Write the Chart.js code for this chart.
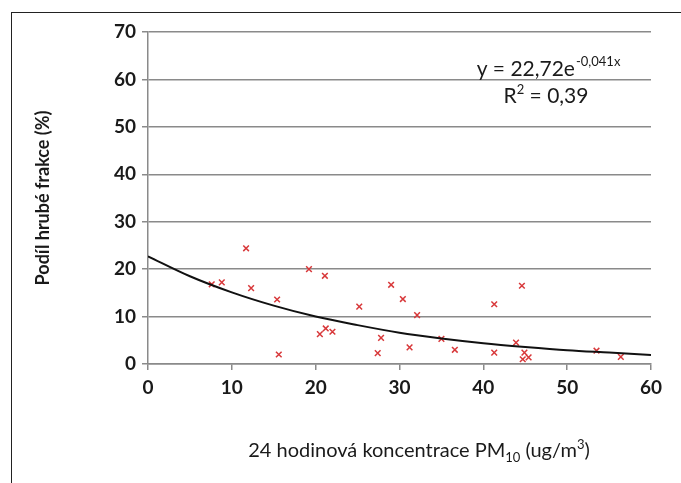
<!DOCTYPE html>
<html>
<head>
<meta charset="utf-8">
<script src="https://cdn.jsdelivr.net/npm/chart.js@4.4.1/dist/chart.umd.min.js"></script>
<style>
  html, body { margin: 0; padding: 0; background: #fff; }
  #wrap { position: relative; width: 681px; height: 483px; }
  #frame { position: absolute; left: 11px; top: 12px; right: 0; bottom: 0;
           border-left: 1px solid #222; border-top: 1px solid #222; }
  canvas { position: absolute; left: 0; top: 0; }
</style>
</head>
<body>
<div id="wrap">
  <div id="frame"></div>
  <canvas id="chart" width="681" height="483"></canvas>
</div>
<script>
// measured points (PM10 concentration vs coarse fraction share)
const pmX = [11.7, 7.6, 8.8, 12.3, 15.4, 15.6, 19.2, 21.1, 20.5, 21.2, 22.0, 25.2, 27.8, 27.4, 29.0,
             30.4, 32.1, 31.2, 35.0, 36.6, 41.3, 44.6, 41.3, 43.9, 44.9, 44.7, 45.4, 53.5, 56.4];
const shareY = [24.4, 16.8, 17.2, 16.0, 13.6, 2.0, 20.0, 18.6, 6.3, 7.5, 6.8, 12.1, 5.5, 2.3, 16.7,
                13.7, 10.3, 3.5, 5.3, 3.0, 12.6, 16.5, 2.4, 4.5, 2.4, 1.0, 1.4, 2.8, 1.5];

// exponential trend line
const trendX = [0, 5, 10, 15, 20, 25, 30, 35, 40, 45, 50, 55, 60];
const trendY = [22.7, 18.5, 15.1, 12.3, 10.0, 8.2, 6.6, 5.4, 4.4, 3.6, 2.9, 2.4, 1.9];

const xTicks = [0, 10, 20, 30, 40, 50, 60];
const yTicks = [0, 10, 20, 30, 40, 50, 60, 70];

const FONT = 'Lato, "Open Sans", sans-serif';

// text overlays: equation box and x axis title with sub/superscripts
const textPlugin = {
  id: 'texts',
  afterDraw(chart) {
    const c = chart.ctx;
    c.save();
    c.fillStyle = '#1a1a1a';
    c.textBaseline = 'alphabetic';
    c.textAlign = 'left';

    // equation
    const big = '21px ' + FONT, small = '13px ' + FONT;
    c.font = big;
    const p1 = 'y = 22,72e';
    const w1 = c.measureText(p1).width;
    c.font = small;
    const s1 = '-0,041x';
    const ws1 = c.measureText(s1).width;
    let x0 = 548 - (w1 + ws1) / 2;
    c.font = big;
    c.fillText(p1, x0, 76);
    c.font = small;
    c.fillText(s1, x0 + w1 + 1, 66);

    c.font = big;
    const a = 'R', b = ' = 0,39';
    const wa = c.measureText(a).width, wb = c.measureText(b).width;
    c.font = small;
    const w2 = c.measureText('2').width;
    x0 = 546 - (wa + w2 + wb) / 2;
    c.font = big;
    c.fillText(a, x0, 103);
    c.font = small;
    c.fillText('2', x0 + wa, 94);
    c.font = big;
    c.fillText(b, x0 + wa + w2, 103);

    // x axis title
    const f = '20px ' + FONT, fs = '13px ' + FONT;
    const parts = [['24 hodinová koncentrace PM', f, 0], ['10', fs, 5], [' (ug/m', f, 0], ['3', fs, -8], [')', f, 0]];
    let total = 0;
    parts.forEach(p => { c.font = p[1]; total += c.measureText(p[0]).width; });
    let x = 419 - total / 2;
    parts.forEach(p => {
      c.font = p[1];
      c.fillText(p[0], x, 457 + p[2]);
      x += c.measureText(p[0]).width;
    });
    c.restore();
  }
};

const ctx = document.getElementById('chart').getContext('2d');
const chart = new Chart(ctx, {
  type: 'scatter',
  data: {
    datasets: [{
      label: 'data',
      data: pmX.map((v, i) => ({ x: v, y: shareY[i] })),
      pointStyle: 'crossRot',
      pointRadius: 4,
      borderColor: '#d8383a',
      borderWidth: 1.5,
      order: 1
    }, {
      label: 'trend',
      type: 'line',
      data: trendX.map((v, i) => ({ x: v, y: trendY[i] })),
      borderColor: '#111',
      borderWidth: 2,
      pointRadius: 0,
      tension: 0.4,
      cubicInterpolationMode: 'monotone',
      fill: false,
      order: 0
    }]
  },
  options: {
    responsive: false,
    animation: false,
    layout: { padding: { top: 32, right: 30, left: 0, bottom: 0 } },
    plugins: { legend: { display: false }, tooltip: { enabled: false } },
    scales: {
      x: {
        type: 'linear',
        min: 0, max: 60,
        afterBuildTicks: s => { s.ticks = xTicks.map(v => ({ value: v })); },
        afterFit: s => { s.height = 483 - 364; },
        grid: { drawOnChartArea: false, drawTicks: true, tickLength: 6, color: '#8a8a8a', lineWidth: 1.5 },
        border: { color: '#8a8a8a', width: 1.5 },
        ticks: { color: '#1a1a1a', font: { family: FONT, size: 19, weight: 'bold' }, padding: 6, maxRotation: 0 }
      },
      y: {
        min: 0, max: 70,
        afterBuildTicks: s => { s.ticks = yTicks.map(v => ({ value: v })); },
        afterFit: s => { s.width = 148; },
        grid: { color: '#8a8a8a', lineWidth: 1.5, tickLength: 6 },
        border: { color: '#8a8a8a', width: 1.5 },
        ticks: { color: '#1a1a1a', font: { family: FONT, size: 19, weight: 'bold' }, padding: 6 },
        title: {
          display: true,
          text: 'Podíl hrubé frakce (%)',
          color: '#1a1a1a',
          font: { family: FONT, size: 18, weight: 'bold' },
          padding: { top: 32, bottom: 0 }
        }
      }
    }
  },
  plugins: [textPlugin]
});
</script>
</body>
</html>
